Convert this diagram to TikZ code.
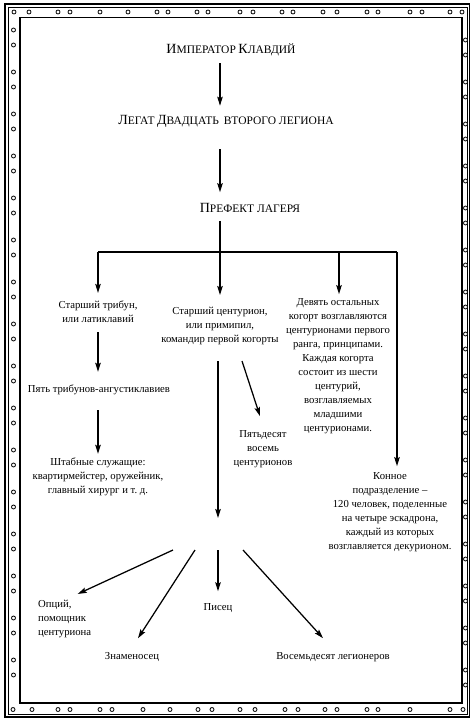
\documentclass[tikz,border=0pt]{standalone}
\usepackage{fontspec}
\setmainfont{Liberation Serif}
\usetikzlibrary{arrows.meta,calc}
\newcommand{\scA}[2]{{\fontsize{14}{16}\selectfont #1}{\fontsize{11.5}{14}\selectfont #2}}
\begin{document}
\begin{tikzpicture}[x=1pt,y=-1pt,
  txt/.style={font=\fontsize{10.7}{14}\selectfont, align=center, inner sep=1pt},
  ttl/.style={inner sep=1pt},
  arr/.style={line width=1.25pt, -{Stealth[length=9pt,width=5.5pt,inset=1.5pt]}},
  ln/.style={line width=1.4pt},
  ring/.style={draw, line width=0.8pt, fill=white}]
\useasboundingbox (0,0) rectangle (472,720);
% frame
\draw[line width=1.3pt] (5,4) rectangle (469.5,717);
\draw[line width=0.6pt] (8.5,7.5) rectangle (467,714);
\draw[line width=1.8pt] (20,17.5) rectangle (462,703);
\foreach \x in {14,29,58,70,100,128,157,168,197,208,240,253,282,293,323,337,367,378,410,422,450,462}
  \draw[ring] (\x,12) circle (2pt);
\foreach \x in {13,32,58,70,100,112,143,170,198,212,240,255,285,298,325,337,367,378,410,450,463}
  \draw[ring] (\x,709.5) circle (2pt);
\foreach \k in {0,...,15} {
  \draw[ring] (13.5,{30+42*\k}) circle (2pt);
  \draw[ring] (13.5,{45+42*\k}) circle (2pt);
  \draw[ring] (465.5,{40+42*\k}) circle (2pt);
  \draw[ring] (465.5,{55+42*\k}) circle (2pt);
}
% titles
\node[ttl] (emp) at (231,50) {\scA{И}{МПЕРАТОР} \scA{К}{ЛАВДИЙ}};
\node[ttl] (leg) at (226,121) {\scA{Л}{ЕГАТ} \scA{Д}{ВАДЦАТЬ}\ \ \scA{}{ВТОРОГО ЛЕГИОНА}};
\node[ttl] (pref) at (250,208) {\scA{П}{РЕФЕКТ ЛАГЕРЯ}};
% body nodes
\node[txt] (trib) at (98,312) {Старший трибун,\\или латиклавий};
\node[txt] (ang) at (99,390) {Пять трибунов-ангустиклавиев};
\node[txt] (staff) at (98,477) {Штабные служащие:\\квартирмейстер, оружейник,\\главный хирург и т.~д.};
\node[txt] (prim) at (220,326) {Старший центурион,\\или примипил,\\командир первой когорты};
\node[txt] (nine) at (338,366) {Девять остальных\\когорт возглавляются\\центурионами первого\\ранга, принципами.\\Каждая когорта\\состоит из шести\\центурий,\\возглавляемых\\младшими\\центурионами.};
\node[txt] (fifty) at (263,449) {Пятьдесят\\восемь\\центурионов};
\node[txt] (cav) at (390,512) {Конное\\подразделение –\\120 человек, поделенные\\на четыре эскадрона,\\каждый из которых\\возглавляется декурионом.};
\node[txt, align=left, anchor=west] (opt) at (37,619) {Опций,\\помощник\\центуриона};
\node[txt] (pisec) at (218,608) {Писец};
\node[txt] (znam) at (132,657) {Знаменосец};
\node[txt] (vosem) at (333,657) {Восемьдесят легионеров};
% coordinates
\coordinate (hub) at (220,252);
\coordinate (hubL) at (98,252);
\coordinate (hubM) at (339,252);
\coordinate (hubR) at (397,252);
\coordinate (fanTop) at (218,518);
\coordinate (f1) at (173,550);
\coordinate (f2) at (195,550);
\coordinate (f3) at (218,550);
\coordinate (f4) at (243,550);
% connectors
\draw[arr] ($(emp.south -| hub)+(0,6)$) -- ($(leg.north -| hub)+(0,-8)$);
\draw[arr] ($(leg.south -| hub)+(0,21)$) -- ($(pref.north -| hub)+(0,-10)$);
\draw[ln] ($(pref.south -| hub)+(0,7)$) -- (hub);
\draw[ln] (hubL) -- (hubR);
\draw[arr] (hubL) -- ($(trib.north -| hubL)+(0,-7)$);
\draw[arr] (hub) -- ($(prim.north -| hub)+(0,-11)$);
\draw[arr] (hubM) -- ($(nine.north -| hubM)+(0,-3)$);
\draw[arr] (hubR) -- ($(cav.north -| hubR)+(0,-5)$);
\draw[arr] ($(trib.south -| hubL)+(0,8)$) -- ($(ang.north -| hubL)+(0,-12)$);
\draw[arr] ($(ang.south -| hubL)+(0,14)$) -- ($(staff.north -| hubL)+(0,-3)$);
\draw[arr] ($(prim.south -| fanTop)+(0,15)$) -- (fanTop);
\draw[arr] ($(prim.south)+(22,15)$) -- ($(fifty.north)+(-3,-13)$);
\draw[arr] (f1) -- ($(opt.north)+(13,-5)$);
\draw[arr] (f2) -- ($(znam.north)+(6,-13)$);
\draw[arr] (f3) -- ($(pisec.north)+(0,-11)$);
\draw[arr] (f4) -- ($(vosem.north)+(-10,-13)$);
\end{tikzpicture}
\end{document}
